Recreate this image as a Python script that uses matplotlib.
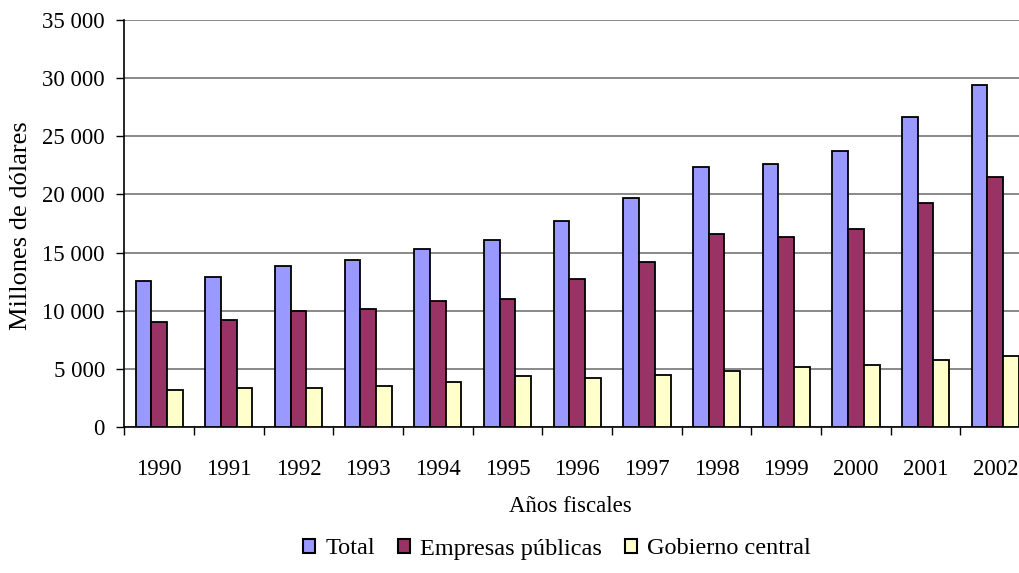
#!/usr/bin/env python3
"""Deuda externa por anios fiscales: total, empresas publicas y gobierno central."""
import numpy as np
import matplotlib
matplotlib.use('Agg')
import matplotlib.pyplot as plt
from matplotlib.ticker import FuncFormatter
from matplotlib.patches import Patch

# --- Data -------------------------------------------------------------------
YEARS = ['1990', '1991', '1992', '1993', '1994', '1995', '1996',
         '1997', '1998', '1999', '2000', '2001', '2002']
TOTAL = [12550, 12870, 13850, 14340, 15290, 16120, 17730,
         19680, 22380, 22650, 23770, 26660, 29380]
EMPRESAS = [9020, 9190, 10000, 10140, 10800, 10980, 12730,
            14190, 16560, 16380, 17040, 19300, 21500]
GOBIERNO = [3190, 3390, 3390, 3560, 3850, 4370, 4200,
            4510, 4810, 5130, 5300, 5790, 6100]

SERIES = ['Total', 'Empresas públicas', 'Gobierno central']
COLORS = ['#9999FF', '#993366', '#FFFFCC']

plt.rcParams['font.family'] = ['Liberation Serif', 'DejaVu Serif']
FS = 16.5

fig = plt.figure(figsize=(10.2, 5.73), dpi=100)
# axes runs a bit past the right edge of the figure, like the original
ax = fig.add_axes([0.1219, 0.2548, 0.888, 0.7103])

x = np.arange(len(YEARS))
w = 0.226
for i, (vals, col) in enumerate(zip([TOTAL, EMPRESAS, GOBIERNO], COLORS)):
    ax.bar(x + (i - 1) * w, vals, width=w, color=col, edgecolor='black',
           linewidth=1.3, zorder=3)

ax.set_xlim(-0.5, len(YEARS) - 0.5)
ax.set_ylim(0, 35000)
ax.set_yticks(np.arange(0, 35001, 5000))
ax.yaxis.set_major_formatter(FuncFormatter(lambda v, p: f"{int(v):,}".replace(',', ' ')))
ax.grid(axis='y', color='#808080', linewidth=1.3, zorder=0)

# ticks at category boundaries, labels at centres
ax.set_xticks(np.arange(-0.5, len(YEARS), 1.0))
ax.set_xticklabels([])
ax.set_xticks(x, minor=True)
ax.set_xticklabels(YEARS, minor=True)
ax.tick_params(axis='x', which='major', length=6, width=1, direction='out')
ax.tick_params(axis='x', which='minor', length=0, pad=23, labelsize=FS)
ax.tick_params(axis='y', length=6, width=1, pad=8, labelsize=FS)

for s in ['top', 'right']:
    ax.spines[s].set_visible(False)
ax.spines['left'].set_linewidth(1.2)
ax.spines['bottom'].set_linewidth(1.2)

fig.text(21 / 1020, 1 - 226 / 573, 'Millones de dólares', rotation=90,
         ha='center', va='center', fontsize=19)
fig.text(570 / 1020, 1 - 507 / 573, 'Años fiscales', ha='center', va='center',
         fontsize=FS)

handles = [Patch(facecolor=c, edgecolor='black', linewidth=1.5) for c in COLORS]
fig.legend(handles, SERIES, loc='center', bbox_to_anchor=(557 / 1020, 1 - 549 / 573),
           ncol=3, frameon=False, fontsize=17.5, handlelength=0.49, handleheight=0.49,
           handletextpad=0.41, columnspacing=0.95)

fig.savefig('out.png', dpi=100)
